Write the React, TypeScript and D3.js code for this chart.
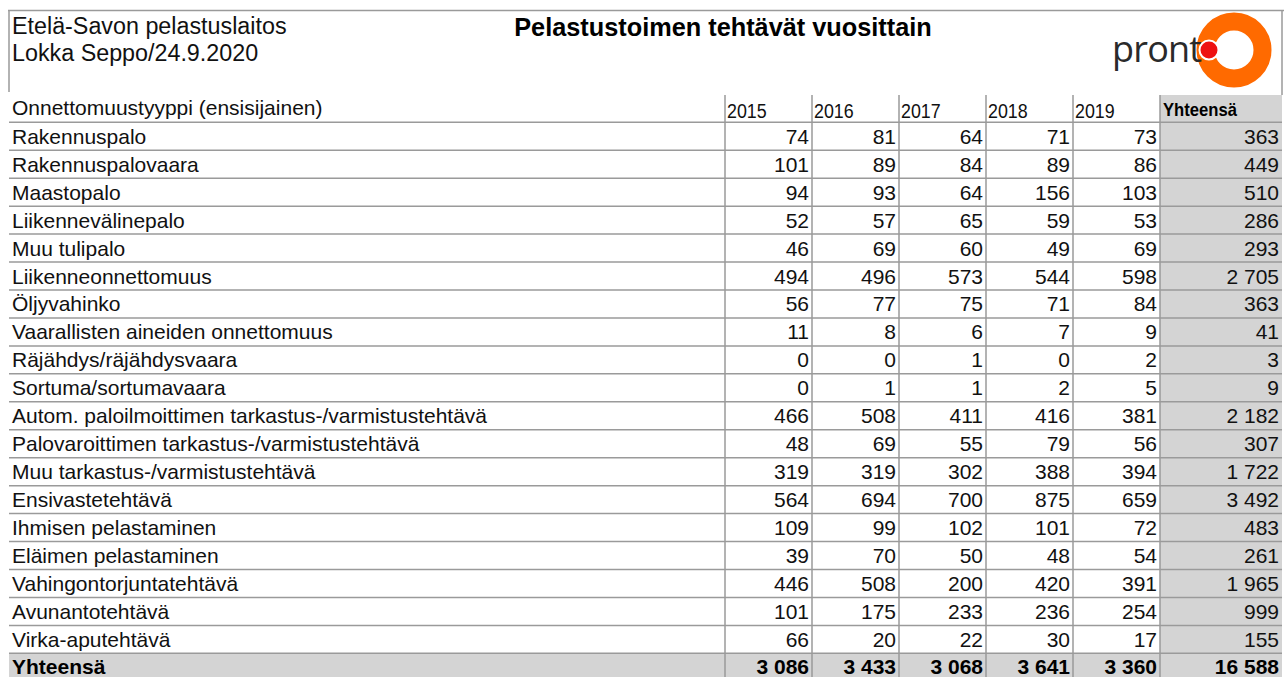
import React from "react";
import * as d3 from "d3";

const categories = [
  "Rakennuspalo",
  "Rakennuspalovaara",
  "Maastopalo",
  "Liikennevälinepalo",
  "Muu tulipalo",
  "Liikenneonnettomuus",
  "Öljyvahinko",
  "Vaarallisten aineiden onnettomuus",
  "Räjähdys/räjähdysvaara",
  "Sortuma/sortumavaara",
  "Autom. paloilmoittimen tarkastus-/varmistustehtävä",
  "Palovaroittimen tarkastus-/varmistustehtävä",
  "Muu tarkastus-/varmistustehtävä",
  "Ensivastetehtävä",
  "Ihmisen pelastaminen",
  "Eläimen pelastaminen",
  "Vahingontorjuntatehtävä",
  "Avunantotehtävä",
  "Virka-aputehtävä",
];

const years = ["2015", "2016", "2017", "2018", "2019"];

const v2015 = [74, 101, 94, 52, 46, 494, 56, 11, 0, 0, 466, 48, 319, 564, 109, 39, 446, 101, 66];
const v2016 = [81, 89, 93, 57, 69, 496, 77, 8, 0, 1, 508, 69, 319, 694, 99, 70, 508, 175, 20];
const v2017 = [64, 84, 64, 65, 60, 573, 75, 6, 1, 1, 411, 55, 302, 700, 102, 50, 200, 233, 22];
const v2018 = [71, 89, 156, 59, 49, 544, 71, 7, 0, 2, 416, 79, 388, 875, 101, 48, 420, 236, 30];
const v2019 = [73, 86, 103, 53, 69, 598, 84, 9, 2, 5, 381, 56, 394, 659, 72, 54, 391, 254, 17];
const rowTotals = [363, 449, 510, 286, 293, 2705, 363, 41, 3, 9, 2182, 307, 1722, 3492, 483, 261, 1965, 999, 155];
const yearTotals = [3086, 3433, 3068, 3641, 3360];
const grandTotal = 16588;

const series = [v2015, v2016, v2017, v2018, v2019];

const W = 1284;
const H = 677;
const ARIAL = "'Liberation Sans', Arial, sans-serif";
const LINE = "#9a9a9a";
const GRAY = "#d4d4d4";

const fmt = d3.formatLocale({ decimal: ",", thousands: "\u00a0", grouping: [3], currency: ["", "€"] }).format(",d");

export default function App() {
  const left = 9;
  const right = 1282;
  const firstColRight = 725;
  const totalColLeft = 1160;
  const headerTop = 95;
  const rowTop = 122.3;
  const rowH = 27.95;

  const x = d3.scaleBand<string>().domain(years).range([firstColRight, totalColLeft]).padding(0);
  const nRows = categories.length + 1;
  const y = d3
    .scaleBand<number>()
    .domain(d3.range(nRows))
    .range([rowTop, rowTop + rowH * nRows])
    .padding(0);

  const bottomY = rowTop + rowH * nRows;
  const numSize = 21;
  const base = (i: number) => (y(i) as number) + rowH / 2 + 7.5;

  return (
    <svg
      width={W}
      height={H}
      style={{ display: "block", background: "#fff", position: "fixed", left: 0, top: 0 }}
    >
      {/* header box */}
      <line x1={left - 1} x2={W} y1={10.5} y2={10.5} stroke={LINE} strokeWidth={1.5} />
      <line x1={left} x2={left} y1={10} y2={92} stroke={LINE} strokeWidth={1.5} />
      <line x1={right} x2={right} y1={10} y2={headerTop} stroke={LINE} strokeWidth={1.5} />
      <text x={12} y={34} fontFamily={ARIAL} fontSize={23.3} fill="#111">Etelä-Savon pelastuslaitos</text>
      <text x={12} y={61} fontFamily={ARIAL} fontSize={23.3} fill="#111">Lokka Seppo/24.9.2020</text>
      <text x={723} y={36} textAnchor="middle" fontFamily={ARIAL} fontWeight="bold" fontSize={25.3} fill="#000">
        Pelastustoimen tehtävät vuosittain
      </text>

      {/* logo */}
      <g>
        <circle cx={1234} cy={50} r={28.5} fill="none" stroke="#ff6a00" strokeWidth={18} />
        <text x={1112} y={62} fontFamily="'Open Sans', sans-serif" fontWeight={500} fontSize={36} fill="#2a2a2a" letterSpacing={-0.8}>
          pront
        </text>
        <circle cx={1209} cy={50} r={9.5} fill="#ee1111" stroke="#fff" strokeWidth={2} />
      </g>

      {/* gray backgrounds */}
      <rect x={totalColLeft} y={headerTop} width={right - totalColLeft} height={bottomY - headerTop} fill={GRAY} />
      <rect x={left} y={y(nRows - 1)} width={right - left} height={rowH + 10} fill={GRAY} />

      {/* header row */}
      <text x={12} y={115} fontFamily={ARIAL} fontSize={21} fill="#111">Onnettomuustyyppi (ensisijainen)</text>
      {years.map((yr) => (
        <text
          key={yr}
          transform={`translate(${(x(yr) as number) + 2},117.5) scale(0.87,1)`}
          fontFamily={ARIAL}
          fontSize={20.5}
          fill="#111"
        >
          {yr}
        </text>
      ))}
      <text transform={`translate(${totalColLeft + 3},116) scale(0.9,1)`} fontFamily={ARIAL} fontWeight="bold" fontSize={18.5} fill="#000">
        Yhteensä
      </text>

      {/* horizontal lines */}
      {d3.range(nRows).map((i) => (
        <line key={"h" + i} x1={left} x2={right} y1={y(i)} y2={y(i)} stroke={LINE} strokeWidth={1.5} />
      ))}

      {/* vertical lines */}
      {[...years.map((yr) => x(yr) as number), totalColLeft].map((xx, i) => (
        <line key={"v" + i} x1={xx} x2={xx} y1={headerTop} y2={H} stroke={LINE} strokeWidth={1.5} />
      ))}

      {/* category labels */}
      {categories.map((c, i) => (
        <text key={c} x={12} y={base(i)} fontFamily={ARIAL} fontSize={numSize} fill="#111">
          {c}
        </text>
      ))}
      <text x={12} y={base(nRows - 1) - 1} fontFamily={ARIAL} fontWeight="bold" fontSize={numSize} fill="#000">
        Yhteensä
      </text>

      {/* values */}
      {series.map((vals, j) =>
        vals.map((v, i) => (
          <text
            key={years[j] + "-" + i}
            x={(x(years[j]) as number) + x.bandwidth() - 3}
            y={base(i)}
            textAnchor="end"
            fontFamily={ARIAL}
            fontSize={numSize}
            fill="#111"
          >
            {fmt(v)}
          </text>
        ))
      )}
      {rowTotals.map((v, i) => (
        <text key={"t" + i} x={right - 3} y={base(i)} textAnchor="end" fontFamily={ARIAL} fontSize={numSize} fill="#111">
          {fmt(v)}
        </text>
      ))}
      {yearTotals.map((v, j) => (
        <text
          key={"yt" + j}
          x={(x(years[j]) as number) + x.bandwidth() - 3}
          y={base(nRows - 1) - 1}
          textAnchor="end"
          fontFamily={ARIAL}
          fontWeight="bold"
          fontSize={numSize}
          fill="#000"
        >
          {fmt(v)}
        </text>
      ))}
      <text x={right - 3} y={base(nRows - 1) - 1} textAnchor="end" fontFamily={ARIAL} fontWeight="bold" fontSize={numSize} fill="#000">
        {fmt(grandTotal)}
      </text>
    </svg>
  );
}
